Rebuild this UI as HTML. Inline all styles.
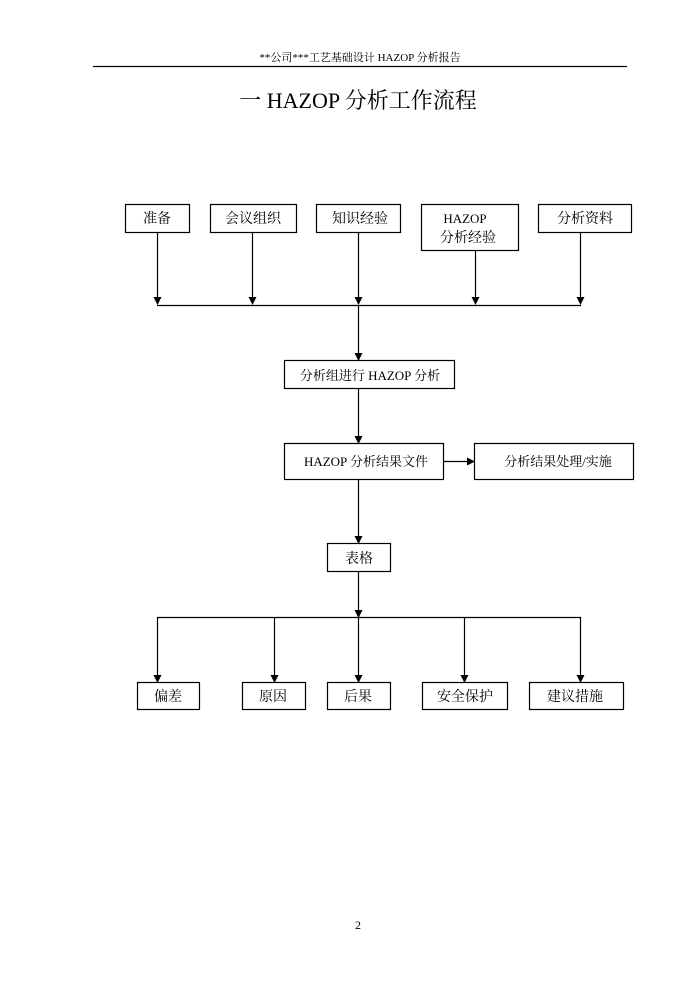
<!DOCTYPE html>
<html><head><meta charset="utf-8"><style>
html,body{margin:0;padding:0;background:#fff}
svg{display:block}
text{font-family:"Liberation Serif","Noto Serif CJK SC","Noto Sans CJK SC",serif;fill:#000}
</style></head><body>
<svg width="700" height="990" viewBox="0 0 700 990" xmlns="http://www.w3.org/2000/svg">
<defs><marker id="a" markerWidth="8" markerHeight="8" refX="7" refY="4" orient="auto" markerUnits="userSpaceOnUse"><path d="M0,0 L8,4 L0,8 z" fill="#000"/></marker></defs>
<text x="360" y="61" font-size="11" text-anchor="middle" fill="#333">**公司***工艺基础设计 HAZOP 分析报告</text>
<line x1="93" y1="66.5" x2="627" y2="66.5" stroke="#000" stroke-width="1.2"/>
<text x="358" y="108" font-size="22" text-anchor="middle">一 HAZOP 分析工作流程</text>
<g fill="none" stroke="#000" stroke-width="1.2">
<rect x="125.5" y="204.5" width="64" height="28"/>
<rect x="210.5" y="204.5" width="86" height="28"/>
<rect x="316.5" y="204.5" width="84" height="28"/>
<rect x="421.5" y="204.5" width="97" height="46"/>
<rect x="538.5" y="204.5" width="93" height="28"/>
<line x1="157.5" y1="232" x2="157.5" y2="304" marker-end="url(#a)"/>
<line x1="252.5" y1="232" x2="252.5" y2="304" marker-end="url(#a)"/>
<line x1="358.5" y1="232" x2="358.5" y2="304" marker-end="url(#a)"/>
<line x1="475.5" y1="250" x2="475.5" y2="304" marker-end="url(#a)"/>
<line x1="580.5" y1="232" x2="580.5" y2="304" marker-end="url(#a)"/>
<line x1="157" y1="305.5" x2="581" y2="305.5"/>
<line x1="358.5" y1="305" x2="358.5" y2="360" marker-end="url(#a)"/>
<rect x="284.5" y="360.5" width="170" height="28"/>
<line x1="358.5" y1="388" x2="358.5" y2="443" marker-end="url(#a)"/>
<rect x="284.5" y="443.5" width="159" height="36"/>
<line x1="443" y1="461.5" x2="474" y2="461.5" marker-end="url(#a)"/>
<rect x="474.5" y="443.5" width="159" height="36"/>
<line x1="358.5" y1="479" x2="358.5" y2="543" marker-end="url(#a)"/>
<rect x="327.5" y="543.5" width="63" height="28"/>
<line x1="358.5" y1="571" x2="358.5" y2="617" marker-end="url(#a)"/>
<line x1="157" y1="617.5" x2="581" y2="617.5"/>
<line x1="157.5" y1="617" x2="157.5" y2="682" marker-end="url(#a)"/>
<line x1="274.5" y1="617" x2="274.5" y2="682" marker-end="url(#a)"/>
<line x1="358.5" y1="617" x2="358.5" y2="682" marker-end="url(#a)"/>
<line x1="464.5" y1="617" x2="464.5" y2="682" marker-end="url(#a)"/>
<line x1="580.5" y1="617" x2="580.5" y2="682" marker-end="url(#a)"/>
<rect x="137.5" y="682.5" width="62" height="27"/>
<rect x="242.5" y="682.5" width="63" height="27"/>
<rect x="327.5" y="682.5" width="63" height="27"/>
<rect x="422.5" y="682.5" width="85" height="27"/>
<rect x="529.5" y="682.5" width="94" height="27"/>
</g>
<g font-size="14" text-anchor="middle">
<text x="157" y="223">准备</text>
<text x="253" y="223">会议组织</text>
<text x="360" y="223">知识经验</text>
<text x="465" y="223" font-size="13">HAZOP</text>
<text x="468" y="242">分析经验</text>
<text x="585" y="223">分析资料</text>
<text x="370" y="380" font-size="13">分析组进行 HAZOP 分析</text>
<text x="366" y="466" font-size="13">HAZOP 分析结果文件</text>
<text x="558" y="466" font-size="13">分析结果处理/实施</text>
<text x="359" y="563">表格</text>
<text x="168" y="701">偏差</text>
<text x="273" y="701">原因</text>
<text x="358" y="701">后果</text>
<text x="465" y="701">安全保护</text>
<text x="575" y="701">建议措施</text>
</g>
<text x="358" y="929" font-size="12" text-anchor="middle">2</text>
</svg>
</body></html>
